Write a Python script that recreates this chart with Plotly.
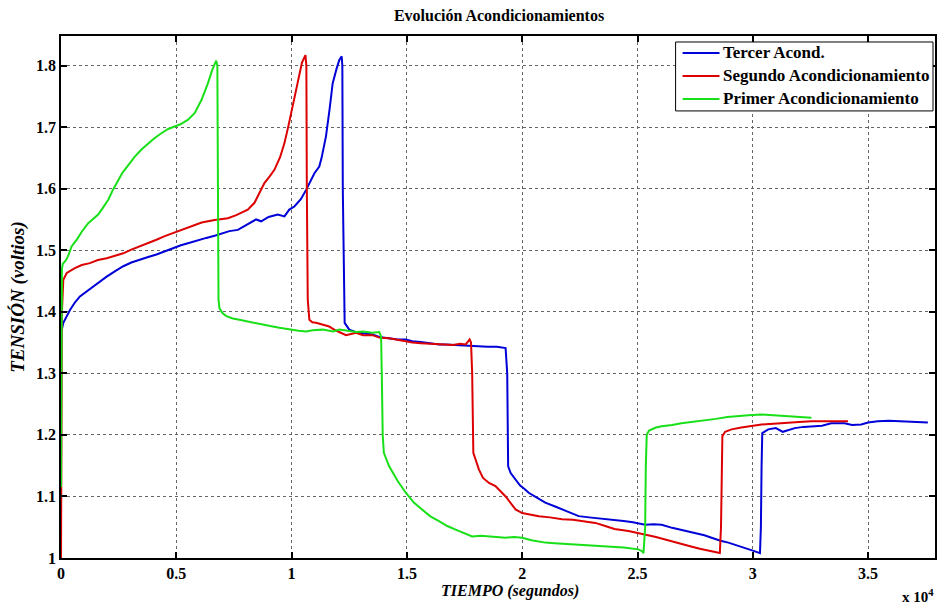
import plotly.graph_objects as go

# Time (s) and voltage (V) for each conditioning run
t_primer = [0, 20, 40, 80, 200, 300, 460, 700, 900, 1180, 1400, 1610, 1800, 2050, 2250, 2480,
            2650, 2770, 3000, 3200, 3500, 3780, 4050, 4350, 4650, 4930, 5200, 5510, 5800, 6090,
            6370, 6550, 6730, 6780, 6800, 6830, 6870, 7000, 7170, 7450, 7740, 8100, 8460, 8800,
            9180, 9470, 9900, 10300, 10630, 10910, 11350, 11800, 12070, 12400, 12800, 13100,
            13500, 13800, 13880, 13910, 13950, 14000, 14230, 14600, 14950, 15300, 15670, 16000,
            16390, 16750, 17110, 17500, 17830, 18200, 18560, 18900, 19280, 19650, 20000, 20400,
            20720, 21000, 21400, 21800, 22450, 22900, 23400, 23890, 24400, 25040, 25200, 25260,
            25330, 25360, 25400, 25500, 25800, 26050, 26500, 26900, 27400, 27900, 28400, 28900,
            29370, 29800, 30380, 30800, 31300, 31820, 32200, 32540]
v_primer = [1.115, 1.30, 1.47, 1.478, 1.483, 1.49, 1.506, 1.518, 1.530, 1.544, 1.551, 1.558, 1.568,
            1.582, 1.598, 1.614, 1.625, 1.631, 1.643, 1.652, 1.664, 1.674, 1.682, 1.690, 1.697,
            1.701, 1.705, 1.712, 1.723, 1.744, 1.771, 1.792, 1.808, 1.80, 1.60, 1.42, 1.406,
            1.398, 1.393, 1.389, 1.387, 1.384, 1.382, 1.378, 1.376, 1.374, 1.371, 1.369, 1.368,
            1.370, 1.371, 1.368, 1.371, 1.369, 1.367, 1.368, 1.366, 1.367, 1.360, 1.30, 1.20,
            1.171, 1.149, 1.125, 1.106, 1.090, 1.079, 1.068, 1.060, 1.052, 1.046, 1.040, 1.035,
            1.036, 1.035, 1.034, 1.033, 1.034, 1.033, 1.029, 1.027, 1.025, 1.024, 1.023, 1.022,
            1.021, 1.020, 1.019, 1.017, 1.014, 1.011, 1.008, 1.05, 1.15, 1.200, 1.207, 1.212,
            1.214, 1.216, 1.219, 1.221, 1.224, 1.226, 1.229, 1.231, 1.232, 1.233, 1.232, 1.231,
            1.230, 1.229, 1.228]

t_segundo = [0, 20, 40, 100, 250, 600, 900, 1250, 1600, 1980, 2350, 2700, 3050, 3420, 3780, 4140,
             4500, 4860, 5300, 5700, 6100, 6660, 7000, 7240, 7600, 8100, 8390, 8600, 8820, 9050,
             9260, 9500, 9690, 9850, 9980, 10120, 10260, 10450, 10600, 10640, 10660, 10700, 10770,
             10900, 11060, 11300, 11630, 11900, 12360, 12790, 13100, 13510, 13800, 14230, 14600,
             14950, 15240, 15600, 16000, 16390, 16680, 17000, 17300, 17550, 17720, 17780, 17830,
             17860, 17880, 18120, 18300, 18560, 18840, 19280, 19560, 19710, 20000, 20280, 20720,
             21200, 21730, 22200, 22800, 23170, 23600, 24000, 24610, 25000, 25330, 25800, 26200,
             26770, 27200, 27700, 28210, 28570, 28620, 28650, 28680, 28800, 29080, 29500, 30000,
             30380, 30900, 31500, 32000, 32540, 33000, 33500, 34130]
v_segundo = [1.000, 1.20, 1.40, 1.452, 1.463, 1.471, 1.476, 1.479, 1.484, 1.487, 1.491, 1.495,
             1.501, 1.506, 1.512, 1.517, 1.523, 1.528, 1.535, 1.540, 1.545, 1.549, 1.551, 1.552,
             1.557, 1.566, 1.577, 1.592, 1.609, 1.620, 1.631, 1.651, 1.674, 1.700, 1.723, 1.750,
             1.777, 1.805, 1.817, 1.80, 1.60, 1.42, 1.387, 1.383, 1.382, 1.379, 1.376, 1.370,
             1.362, 1.366, 1.362, 1.362, 1.358, 1.357, 1.354, 1.352, 1.350, 1.349, 1.348, 1.347,
             1.347, 1.346, 1.348, 1.347, 1.355, 1.350, 1.30, 1.20, 1.171, 1.144, 1.130, 1.122,
             1.117, 1.100, 1.085, 1.079, 1.073, 1.071, 1.068, 1.066, 1.063, 1.062, 1.059, 1.057,
             1.052, 1.047, 1.044, 1.041, 1.038, 1.034, 1.030, 1.025, 1.020, 1.015, 1.011, 1.008,
             1.05, 1.15, 1.198, 1.205, 1.209, 1.212, 1.215, 1.217, 1.218, 1.220, 1.221, 1.222,
             1.222, 1.223, 1.222]

t_tercer = [0, 30, 100, 390, 600, 820, 1000, 1250, 1600, 1980, 2350, 2700, 3050, 3420, 3780, 4140,
            4500, 4860, 5200, 5580, 5900, 6300, 6700, 7000, 7300, 7670, 8000, 8460, 8680, 9000,
            9400, 9690, 9900, 10120, 10400, 10630, 10990, 11200, 11300, 11490, 11650, 11780,
            11950, 12070, 12170, 12200, 12220, 12260, 12300, 12500, 12800, 13100, 13510, 13800,
            14230, 14600, 14950, 15240, 15600, 16000, 16400, 16680, 17100, 17500, 18120, 18500,
            18900, 19280, 19350, 19370, 19390, 19500, 19710, 19900, 20140, 20280, 20600, 21000,
            21400, 21730, 22100, 22450, 22900, 23400, 23890, 24400, 24800, 25330, 25700, 26050,
            26500, 27000, 27490, 27900, 28210, 28600, 28940, 29300, 29660, 30000, 30310, 30350,
            30380, 30410, 30670, 31000, 31300, 31820, 32200, 32540, 33000, 33400, 33980, 34300,
            34700, 35000, 35420, 35900, 36400, 36860, 37300, 37590]
v_tercer = [1.365, 1.372, 1.382, 1.403, 1.415, 1.425, 1.430, 1.436, 1.447, 1.457, 1.466, 1.474,
            1.480, 1.485, 1.489, 1.493, 1.498, 1.504, 1.508, 1.512, 1.516, 1.520, 1.524, 1.528,
            1.531, 1.533, 1.540, 1.550, 1.547, 1.554, 1.558, 1.555, 1.566, 1.571, 1.583, 1.598,
            1.625, 1.636, 1.650, 1.685, 1.730, 1.771, 1.795, 1.809, 1.815, 1.80, 1.60, 1.42,
            1.382, 1.371, 1.367, 1.365, 1.363, 1.359, 1.357, 1.355, 1.355, 1.352, 1.351, 1.349,
            1.347, 1.347, 1.346, 1.345, 1.344, 1.343, 1.343, 1.341, 1.300, 1.20, 1.149, 1.138,
            1.127, 1.118, 1.111, 1.106, 1.099, 1.090, 1.084, 1.079, 1.074, 1.068, 1.066, 1.064,
            1.063, 1.060, 1.058, 1.054, 1.055, 1.054, 1.049, 1.045, 1.041, 1.037, 1.033, 1.028,
            1.025, 1.021, 1.017, 1.012, 1.008, 1.05, 1.15, 1.203, 1.209, 1.211, 1.205, 1.211,
            1.213, 1.214, 1.215, 1.219, 1.219, 1.216, 1.217, 1.220, 1.222, 1.223, 1.222, 1.222,
            1.220, 1.220]

series_names = ["Tercer Acond.", "Segundo Acondicionamiento", "Primer Acondicionamiento"]
series_colors = ["#0000d8", "#dd0000", "#18e018"]

x_tickvals = [0, 5000, 10000, 15000, 20000, 25000, 30000, 35000]
x_ticktext = ["0", "0.5", "1", "1.5", "2", "2.5", "3", "3.5"]
y_tickvals = [1.0, 1.1, 1.2, 1.3, 1.4, 1.5, 1.6, 1.7, 1.8]
y_ticktext = ["1", "1.1", "1.2", "1.3", "1.4", "1.5", "1.6", "1.7", "1.8"]

SERIF = "Liberation Serif"
W, H = 944, 612
L, R, T, B = 61, 937, 36, 558.5   # plot-area edges in pixels


def px(x):
    return (x - L) / (R - L)


def py(y):
    return (B - y) / (B - T)


fig = go.Figure()
for t, v, name, color in zip([t_tercer, t_segundo, t_primer], [v_tercer, v_segundo, v_primer],
                             series_names, series_colors):
    fig.add_trace(go.Scatter(x=t, y=v, mode="lines", name=name,
                             line=dict(color=color, width=2), showlegend=False))

axis_common = dict(
    showline=True, linecolor="black", linewidth=1.5, mirror="allticks",
    ticks="inside", ticklen=6, tickwidth=1.5, tickcolor="black",
    showgrid=True, gridcolor="#666666", griddash="dot", gridwidth=1,
    zeroline=False,
    tickfont=dict(family=SERIF, size=16, color="black", weight="bold"),
)

fig.update_layout(
    width=W, height=H,
    margin=dict(l=L, r=W - R, t=T, b=H - B),
    paper_bgcolor="white", plot_bgcolor="white",
    title=dict(text="<b>Evolución Acondicionamientos</b>", x=499 / W, xanchor="center",
               y=1 - 15 / H, yanchor="middle",
               font=dict(family=SERIF, size=16, color="black")),
    xaxis=dict(range=[0, 37900], tickvals=x_tickvals, ticktext=x_ticktext, **axis_common),
    yaxis=dict(range=[1.0, 1.848], tickvals=y_tickvals, ticktext=y_ticktext,
               title=dict(text="<b><i>TENSIÓN (voltios)</i></b>", standoff=6,
                          font=dict(family=SERIF, size=19, color="black")),
               **axis_common),
    showlegend=False,
)

# x-axis label and exponent
fig.add_annotation(text="<b><i>TIEMPO (segundos)</i></b>", xref="paper", yref="paper",
                   x=px(511), y=py(592), xanchor="center", yanchor="middle", showarrow=False,
                   font=dict(family=SERIF, size=16, color="black"))
fig.add_annotation(text="<b>x 10<sup>4</sup></b>", xref="paper", yref="paper",
                   x=px(938), y=py(597), xanchor="right", yanchor="middle",
                   showarrow=False, font=dict(family=SERIF, size=15, color="black"))

# legend box in the upper-right corner
fig.add_shape(type="rect", xref="paper", yref="paper",
              x0=px(677), x1=px(935), y0=py(111), y1=py(42),
              line=dict(color="black", width=1), fillcolor="white", layer="above")
for i, (name, color) in enumerate(zip(series_names, series_colors)):
    row = 53 + 23 * i
    fig.add_shape(type="line", xref="paper", yref="paper",
                  x0=px(684), x1=px(721), y0=py(row), y1=py(row),
                  line=dict(color=color, width=2), layer="above")
    fig.add_annotation(text=f"<b>{name}</b>", xref="paper", yref="paper",
                       x=px(723), y=py(row), xanchor="left", yanchor="middle", showarrow=False,
                       font=dict(family=SERIF, size=17, color="black"))

fig.write_html("out.html")
